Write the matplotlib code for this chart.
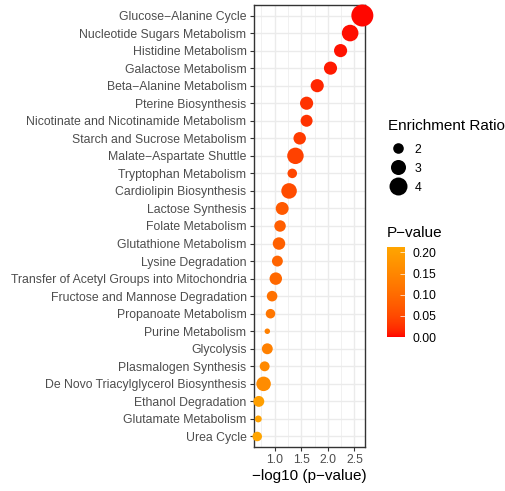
import numpy as np
import matplotlib
matplotlib.use("Agg")
import matplotlib.pyplot as plt
from matplotlib.colors import ListedColormap, Normalize, to_rgb
from matplotlib.cm import ScalarMappable
from matplotlib.lines import Line2D

plt.rcParams['font.family'] = ['Liberation Sans', 'DejaVu Sans']

# pathways, top to bottom
pathways = [
    "Glucose\u2212Alanine Cycle",
    "Nucleotide Sugars Metabolism",
    "Histidine Metabolism",
    "Galactose Metabolism",
    "Beta\u2212Alanine Metabolism",
    "Pterine Biosynthesis",
    "Nicotinate and Nicotinamide Metabolism",
    "Starch and Sucrose Metabolism",
    "Malate\u2212Aspartate Shuttle",
    "Tryptophan Metabolism",
    "Cardiolipin Biosynthesis",
    "Lactose Synthesis",
    "Folate Metabolism",
    "Glutathione Metabolism",
    "Lysine Degradation",
    "Transfer of Acetyl Groups into Mitochondria",
    "Fructose and Mannose Degradation",
    "Propanoate Metabolism",
    "Purine Metabolism",
    "Glycolysis",
    "Plasmalogen Synthesis",
    "De Novo Triacylglycerol Biosynthesis",
    "Ethanol Degradation",
    "Glutamate Metabolism",
    "Urea Cycle",
]
neglog_p = [2.65, 2.42, 2.24, 2.05, 1.80, 1.60, 1.60, 1.47, 1.39, 1.33,
            1.27, 1.14, 1.10, 1.08, 1.05, 1.02, 0.95, 0.92, 0.86, 0.86,
            0.81, 0.79, 0.70, 0.69, 0.67]
enrichment = [5.8, 3.5, 2.5, 2.5, 2.5, 2.5, 2.25, 2.35, 3.45, 1.85,
              3.15, 2.45, 2.15, 2.35, 2.05, 2.35, 2.0, 1.85, 1.6, 2.05,
              1.9, 2.85, 2.05, 1.63, 1.85]
size_breaks = [2, 3, 4]
p_breaks = [0.00, 0.05, 0.10, 0.15, 0.20]

x = np.array(neglog_p)
pval = 10 ** (-x)
er = np.array(enrichment)
ypos = np.arange(len(pathways))[::-1]

DPI = 100
W, H = 505, 491


def diam_px(v):
    t = (np.asarray(v, float) - er.min()) / (er.max() - er.min())
    return 5.5 + 16.5 * np.sqrt(np.clip(t, 0, None))


def area_pt(v):
    return (diam_px(v) * 72.0 / DPI) ** 2


# red -> orange gradient interpolated in Lab, like ggplot
WP = np.array([0.95047, 1.0, 1.08883])
M = np.array([[0.4124, 0.3576, 0.1805],
              [0.2126, 0.7152, 0.0722],
              [0.0193, 0.1192, 0.9505]])


def rgb2lab(c):
    c = np.asarray(c, float)
    lin = np.where(c <= 0.04045, c / 12.92, ((c + 0.055) / 1.055) ** 2.4)
    xyz = M @ lin / WP
    f = np.where(xyz > 0.008856, np.cbrt(xyz), 7.787 * xyz + 16 / 116)
    return np.array([116 * f[1] - 16, 500 * (f[0] - f[1]), 200 * (f[1] - f[2])])


def lab2rgb(lab):
    L, a, b = lab
    fy = (L + 16) / 116
    fx = fy + a / 500
    fz = fy - b / 200
    f = np.array([fx, fy, fz])
    xyz = np.where(f ** 3 > 0.008856, f ** 3, (f - 16 / 116) / 7.787) * WP
    lin = np.linalg.solve(M, xyz)
    c = np.where(lin <= 0.0031308, 12.92 * lin, 1.055 * np.clip(lin, 0, None) ** (1 / 2.4) - 0.055)
    return np.clip(c, 0, 1)


lab_lo = rgb2lab(to_rgb("red"))
lab_hi = rgb2lab(to_rgb("orange"))
cmap = ListedColormap([lab2rgb(lab_lo + (lab_hi - lab_lo) * t)
                       for t in np.linspace(0, 1, 256)])
norm = Normalize(vmin=0.0, vmax=0.213)

fig = plt.figure(figsize=(W / DPI, H / DPI), dpi=DPI)
ax = fig.add_axes([253.5 / W, 1 - 447 / H, (365 - 253.5) / W, (447 - 5) / H])

ax.scatter(x, ypos, s=area_pt(er), c=pval, cmap=cmap, norm=norm,
           linewidths=0, zorder=3, clip_on=False)

ax.set_xlim(0.60, 2.70)
ax.set_ylim(-0.6, len(pathways) - 0.4)
ax.set_xticks([1.0, 1.5, 2.0, 2.5])
ax.set_xticks([0.75, 1.25, 1.75, 2.25], minor=True)
ax.set_yticks(ypos)
ax.set_yticklabels(pathways)
ax.grid(True, which='major', color='#EBEBEB', linewidth=1.0, zorder=0)
ax.grid(True, which='minor', axis='x', color='#EBEBEB', linewidth=0.5, zorder=0)
ax.set_axisbelow(True)
for sp in ax.spines.values():
    sp.set_color('#333333')
    sp.set_linewidth(1.0)
    sp.set_zorder(2)
ax.tick_params(axis='both', which='major', length=3, width=0.8,
               color='#333333', labelcolor='#4D4D4D', labelsize=8.8, pad=2)
ax.tick_params(axis='x', which='minor', length=0)
ax.set_xlabel("\u2212log10 (p\u2212value)", fontsize=11, color='black', labelpad=2)

# size legend
fig.text(388 / W, 1 - 126 / H, "Enrichment Ratio", fontsize=11, va='center', ha='left')
handles = [Line2D([], [], linestyle='none', marker='o', color='black',
                  markeredgewidth=0, markersize=diam_px(b) * 72.0 / DPI)
           for b in size_breaks]
leg = fig.legend(handles, [str(b) for b in size_breaks], loc='upper left',
                 bbox_to_anchor=(383 / W, 1 - 138 / H), frameon=False,
                 fontsize=8.8, handlelength=1.6, handleheight=1.0,
                 handletextpad=0.6, labelspacing=0.55, borderaxespad=0)

# colour bar
cax = fig.add_axes([387 / W, 1 - 337 / H, 17.5 / W, 90 / H])
cb = fig.colorbar(ScalarMappable(norm=norm, cmap=cmap), cax=cax, ticks=p_breaks)
cb.outline.set_visible(False)
cb.ax.set_yticklabels(["%.2f" % b for b in p_breaks])
cb.ax.tick_params(length=3.5, width=0.5, color='white', direction='in',
                  labelsize=8.8, labelcolor='black', pad=6)
fig.text(387 / W, 1 - 233 / H, "P\u2212value", fontsize=11, va='center', ha='left')

fig.savefig("out.png", dpi=DPI)
